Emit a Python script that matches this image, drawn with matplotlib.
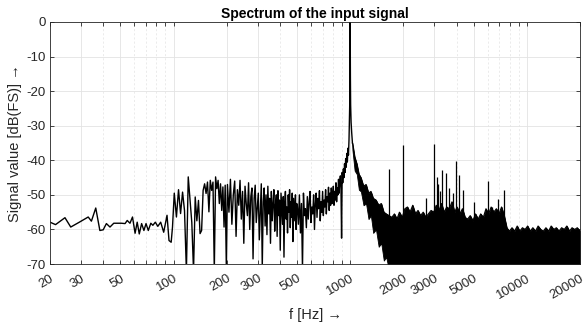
import matplotlib
matplotlib.use('Agg')
import matplotlib.pyplot as plt
import numpy as np

plt.rcParams['font.family'] = ['Liberation Sans', 'DejaVu Sans']
plt.rcParams['axes.unicode_minus'] = False

# --- spectrum (f in Hz, level in dB(FS)) ---
# 20-100 Hz: individual FFT bins
f_low = [20.0, 21.5, 24.3, 26.2, 29.3, 32.9, 34.3, 36.3, 38.3, 40.0, 41.7, 43.7,
         45.9, 50.7, 53.2, 54.7, 56.7, 58.6, 60.6, 62.3, 64.0, 66.0, 68.0, 69.9,
         72.0, 74.4, 76.4, 78.9, 81.5, 84.6, 88.0, 91.9, 94.3, 97.0, 98.7]
db_low = [-57.9, -58.6, -56.6, -59.3, -57.9, -56.4, -57.6, -53.8, -60.3, -60.1,
          -58.3, -59.3, -58.2, -58.2, -58.3, -57.4, -58.2, -56.4, -61.1, -57.9,
          -61.3, -58.3, -60.3, -58.3, -60.3, -58.2, -58.8, -57.9, -59.1, -57.9,
          -60.8, -55.9, -63.2, -63.7, -59.3]

# 101-199 Hz, evenly spaced bins
db_mid1 = [-49.5, -56.4, -48.5, -55.4, -49.2, -54.5, -72.0, -44.8, -51.6, -58.0,
           -72.0, -50.6, -57.5, -51.6, -61.2, -60.3, -48.7, -46.8, -49.6, -46.3,
           -54.9, -45.8, -48.7, -46.3, -72.0, -44.8, -48.2, -45.8, -52.5, -46.8,
           -54.5, -47.7, -59.3, -47.2, -70.5]
# 202-498 Hz
db_mid2 = [-47.0, -55.0, -45.5, -58.5, -50.0, -46.0, -62.0, -48.5, -53.0, -45.8,
           -57.0, -49.0, -64.0, -47.5, -52.5, -56.0, -46.5, -60.0, -50.5, -48.0,
           -68.5, -51.0, -47.2, -58.0, -53.5, -49.5, -63.0, -55.0, -46.8, -71.0,
           -52.0, -48.0, -59.0, -50.0, -61.5, -47.5, -55.5, -51.0, -64.0, -49.0,
           -57.5, -52.5, -48.5, -60.5, -53.0, -50.0, -62.0, -48.8, -56.0, -51.5,
           -66.0, -49.5, -54.0, -58.5, -50.5, -68.0, -52.0, -49.0, -57.0, -53.5,
           -61.0, -50.0, -55.0, -48.5, -59.5, -52.0, -56.5, -49.5, -63.5, -51.0,
           -54.5, -57.5, -50.0, -60.0, -52.5]
# 502-985 Hz
db_mid3 = [-53.0, -58.5, -50.0, -61.0, -52.5, -71.5, -49.5, -56.0, -54.0, -59.5,
           -50.5, -57.0, -52.0, -49.0, -58.0, -53.5, -55.5, -50.0, -60.0, -52.5,
           -49.5, -56.5, -51.0, -54.0, -48.8, -57.5, -52.0, -55.0, -49.0, -56.0,
           -51.5, -53.5, -48.5, -55.5, -50.5, -52.0, -47.8, -54.5, -49.5, -53.0,
           -48.0, -52.5, -50.5, -47.5, -53.0, -49.0, -51.5, -46.5, -52.0, -48.0,
           -50.0, -45.5, -49.5, -46.0, -44.5, -48.0, -62.5, -43.5, -46.5, -42.5,
           -45.0, -41.0, -43.5, -39.5, -42.0, -38.0, -40.5, -36.5, -38.5, -34.0]

# the 1 kHz test tone
f_peak = [990, 994, 997, 999, 1000, 1001, 1003, 1006, 1012, 1020, 1030]
db_peak = [-29.0, -24.0, -16.0, -6.0, 0.0, -6.0, -16.0, -24.0, -29.0, -32.0, -35.0]

# above 1 kHz the bins merge into a band: upper edge, lower edge of the skirt
f_hi = [1030, 1060, 1090, 1120, 1150, 1190, 1230, 1270, 1310, 1350, 1400, 1450,
        1500, 1550, 1600, 1660, 1720, 1780, 1840, 1900, 1970, 2040, 2110, 2180,
        2260, 2340, 2420, 2500, 2590, 2680, 2770, 2870, 2970, 3070, 3180, 3290,
        3400, 3520, 3640, 3770, 3900, 4030, 4170, 4320, 4470, 4620, 4780, 4950,
        5120, 5300, 5480, 5670, 5870, 6070, 6280, 6500, 6720, 6950, 7190, 7440,
        7700, 7960, 8240, 8520, 8820, 9120, 9440, 9770, 10100, 10450, 10810, 11190,
        11580, 11980, 12390, 12820, 13270, 13730, 14200, 14690, 15200, 15730, 16270,
        16840, 17420, 18020, 18650, 19290, 20000]
top_hi = [-35.0, -39.0, -41.0, -44.0, -45.0, -47.5, -47.0, -49.5, -49.0, -51.0,
          -51.5, -53.0, -52.5, -55.0, -55.5, -56.0, -56.5, -55.5, -57.0, -55.0,
          -56.5, -54.0, -53.5, -55.0, -53.0, -55.5, -54.5, -56.0, -55.0, -56.5,
          -55.5, -54.5, -55.0, -53.0, -54.5, -52.5, -55.0, -53.5, -54.0, -52.0,
          -55.0, -53.5, -55.5, -54.0, -56.5, -57.0, -56.0, -57.5, -55.5, -57.0,
          -55.5, -56.5, -54.0, -55.5, -53.5, -55.0, -54.0, -55.5, -53.5, -56.0,
          -59.5, -60.5, -59.5, -60.5, -59.0, -60.5, -59.5, -60.0, -59.0, -60.5,
          -59.5, -60.5, -59.0, -60.0, -60.5, -59.5, -60.5, -59.0, -60.0, -59.5,
          -60.5, -59.5, -60.0, -59.0, -60.5, -59.5, -60.0, -59.5, -60.5]
skirt_bot = [-37.0, -43.0, -44.0, -48.5, -49.0, -53.0, -52.5, -57.0, -56.0, -61.0,
             -60.0, -65.0, -64.0, -69.0, -68.0, -72.0, -75.0]

# isolated spurious lines
f_spike = [1660, 2000, 2690, 3000, 3084, 3150, 3220, 3330, 3490, 3630, 3820,
           3960, 4130, 4340, 5030, 5990, 6350, 6850, 7400]
db_spike = [-42.6, -35.6, -50.8, -35.3, -44.8, -46.8, -49.0, -42.9, -43.7, -48.0,
            -49.4, -40.2, -44.2, -48.7, -52.1, -45.9, -53.5, -51.2, -48.7]

xticks = [20, 30, 50, 100, 200, 300, 500, 1000, 2000, 3000, 5000, 10000, 20000]
xminor = [40, 60, 70, 80, 90, 400, 600, 700, 800, 900, 4000, 6000, 7000, 8000, 9000]
yticks = [-70, -60, -50, -40, -30, -20, -10, 0]

# evenly spaced FFT bins for the mid band
f_mid1 = np.linspace(101, 199, len(db_mid1))
f_mid2 = np.linspace(202, 498, len(db_mid2))
f_mid3 = np.linspace(502, 985, len(db_mid3))

f_line = np.concatenate([f_low, f_mid1, f_mid2, f_mid3, f_peak])
db_line = np.concatenate([db_low, db_mid1, db_mid2, db_mid3, db_peak])

bot_hi = np.full(len(f_hi), -75.0)
bot_hi[:len(skirt_bot)] = skirt_bot

fig = plt.figure(figsize=(5.85, 3.28), dpi=100)
ax = fig.add_axes([0.0855, 0.195, 0.906, 0.738])

ax.plot(f_line, db_line, color='black', lw=1.0)
ax.fill_between(f_hi, bot_hi, top_hi, color='black', lw=0.6)
ax.plot(f_hi, top_hi, color='black', lw=0.8)
ax.vlines(f_spike, -75, db_spike, color='black', lw=0.9)

ax.set_xscale('log')
ax.set_xlim(20, 20000)
ax.set_ylim(-70, 0)
ax.set_xticks(xticks, labels=[str(t) for t in xticks])
ax.set_xticks(xminor, minor=True, labels=[])
ax.set_yticks(yticks)
for lab in ax.get_xticklabels():
    lab.set_rotation(30)
    lab.set_ha('right')
    lab.set_va('top')
    lab.set_rotation_mode('anchor')

ax.tick_params(which='both', direction='in', top=True, right=True,
               length=3, width=0.6, colors='#262626', labelsize=9.5)
ax.tick_params(axis='x', pad=6)
ax.tick_params(axis='y', pad=3)
ax.set_axisbelow(True)
ax.grid(which='major', color='#e3e3e3', lw=0.6)
ax.grid(which='minor', axis='x', color='#e3e3e3', lw=0.5, ls=(0, (3, 3)))
for s in ax.spines.values():
    s.set_color('#262626')
    s.set_linewidth(0.6)

ax.set_title('Spectrum of the input signal', fontsize=10, fontweight='bold', pad=3)
ax.set_xlabel('f [Hz] →', fontsize=10.5, color='#262626', labelpad=5)
ax.set_ylabel('Signal value [dB(FS)] →', fontsize=10.5, color='#262626', labelpad=3)

fig.savefig('out.png', dpi=100)
